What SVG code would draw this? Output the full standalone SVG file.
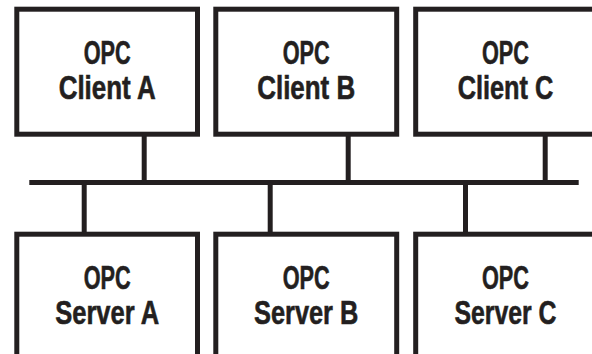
<svg xmlns="http://www.w3.org/2000/svg" width="592" height="354" viewBox="0 0 592 354">
<style>
.box{fill:#ffffff;stroke:#231f20;stroke-width:5}
.ln{stroke:#231f20;stroke-width:5;fill:none}
.t{font-family:"Liberation Sans",Arial,sans-serif;font-weight:bold;font-size:33px;fill:#231f20;stroke:#231f20;stroke-width:0.6;text-anchor:middle}
</style>
<rect width="592" height="354" fill="#ffffff"/>
<g id="connectors">
<line class="ln" x1="29.3" y1="182.5" x2="578.7" y2="182.5"/>
<line class="ln" x1="144.2" y1="136" x2="144.2" y2="182.5"/>
<line class="ln" x1="348.2" y1="136" x2="348.2" y2="182.5"/>
<line class="ln" x1="545.2" y1="136" x2="545.2" y2="182.5"/>
<line class="ln" x1="84.2" y1="182.5" x2="84.2" y2="233"/>
<line class="ln" x1="270.2" y1="182.5" x2="270.2" y2="233"/>
<line class="ln" x1="465.5" y1="182.5" x2="465.5" y2="233"/>
</g>
<g id="clientA">
<rect class="box" x="16.8" y="9.2" width="180.7" height="125"/>
<text class="t" x="107.2" y="64" textLength="47" lengthAdjust="spacingAndGlyphs">OPC</text>
<text class="t" x="107.2" y="99.3" textLength="97" lengthAdjust="spacingAndGlyphs">Client A</text>
</g>
<g id="clientB">
<rect class="box" x="215.8" y="9.2" width="180.9" height="125"/>
<text class="t" x="306.2" y="64" textLength="47" lengthAdjust="spacingAndGlyphs">OPC</text>
<text class="t" x="306.2" y="99.3" textLength="98" lengthAdjust="spacingAndGlyphs">Client B</text>
</g>
<g id="clientC">
<rect class="box" x="415.7" y="9.2" width="181" height="125"/>
<text class="t" x="505.5" y="64" textLength="47" lengthAdjust="spacingAndGlyphs">OPC</text>
<text class="t" x="505.5" y="99.3" textLength="95.7" lengthAdjust="spacingAndGlyphs">Client C</text>
</g>
<g id="serverA">
<rect class="box" x="16.8" y="234.2" width="180.7" height="130"/>
<text class="t" x="107.2" y="289.3" textLength="47" lengthAdjust="spacingAndGlyphs">OPC</text>
<text class="t" x="107.2" y="324.3" textLength="104" lengthAdjust="spacingAndGlyphs">Server A</text>
</g>
<g id="serverB">
<rect class="box" x="215.8" y="234.2" width="180.9" height="130"/>
<text class="t" x="306.2" y="289.3" textLength="47" lengthAdjust="spacingAndGlyphs">OPC</text>
<text class="t" x="306.2" y="324.3" textLength="104.3" lengthAdjust="spacingAndGlyphs">Server B</text>
</g>
<g id="serverC">
<rect class="box" x="415.7" y="234.2" width="181" height="130"/>
<text class="t" x="505.5" y="289.3" textLength="47" lengthAdjust="spacingAndGlyphs">OPC</text>
<text class="t" x="505.5" y="324.3" textLength="102" lengthAdjust="spacingAndGlyphs">Server C</text>
</g>
</svg>
